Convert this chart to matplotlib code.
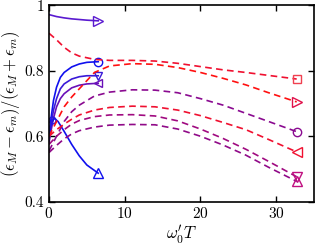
import numpy as np
import matplotlib
matplotlib.use("Agg")
import matplotlib.pyplot as plt

plt.rcParams['font.family'] = 'serif'
plt.rcParams['font.serif'] = ['cmr10', 'DejaVu Serif']
plt.rcParams['mathtext.fontset'] = 'cm'
plt.rcParams['axes.formatter.use_mathtext'] = True

# solid curves (short T range)
xs_top = [0, 1, 2, 3, 4, 5, 6.5]
ys_top = [0.972, 0.966, 0.962, 0.959, 0.957, 0.955, 0.953]

xs_circ = [0, 0.3, 0.6, 1, 1.5, 2, 3, 4, 5, 6.5]
ys_circ = [0.60, 0.66, 0.71, 0.75, 0.78, 0.795, 0.812, 0.821, 0.826, 0.828]

xs_dtri = [0, 0.3, 0.6, 1, 1.5, 2, 3, 4, 5, 6.5]
ys_dtri = [0.60, 0.64, 0.68, 0.715, 0.745, 0.76, 0.775, 0.782, 0.785, 0.785]

xs_ltri = [0, 0.3, 0.6, 1, 1.5, 2, 3, 4, 5, 6.5]
ys_ltri = [0.58, 0.62, 0.655, 0.69, 0.715, 0.73, 0.748, 0.756, 0.76, 0.762]

xs_utri = [0, 0.3, 0.7, 1.2, 2, 3, 4, 5, 6.5]
ys_utri = [0.60, 0.64, 0.655, 0.645, 0.615, 0.575, 0.54, 0.512, 0.487]

xs_small = [0, 0.2, 0.4]
ys_small = [0.61, 0.635, 0.65]

# dashed curves (long T range)
xd = [0, 1, 2, 3, 4, 6, 8, 11, 14, 17, 20, 23, 26, 29, 32.7]
yd_sq = [0.915, 0.895, 0.872, 0.855, 0.845, 0.835, 0.832, 0.832, 0.83, 0.823, 0.813, 0.803, 0.795, 0.786, 0.775]
yd_rtri = [0.60, 0.645, 0.69, 0.72, 0.745, 0.795, 0.815, 0.822, 0.82, 0.81, 0.795, 0.777, 0.757, 0.733, 0.705]
yd_circ = [0.555, 0.60, 0.645, 0.675, 0.695, 0.723, 0.735, 0.742, 0.741, 0.733, 0.715, 0.695, 0.67, 0.645, 0.614]
yd_ltri = [0.60, 0.62, 0.637, 0.652, 0.665, 0.68, 0.688, 0.692, 0.69, 0.68, 0.663, 0.642, 0.62, 0.59, 0.552]
yd_hup = [0.575, 0.60, 0.62, 0.637, 0.648, 0.66, 0.665, 0.666, 0.662, 0.647, 0.622, 0.593, 0.56, 0.523, 0.476]
yd_hdn = [0.55, 0.572, 0.592, 0.607, 0.617, 0.628, 0.634, 0.636, 0.635, 0.622, 0.60, 0.573, 0.542, 0.505, 0.462]

fig = plt.figure(figsize=(3.16, 2.48), dpi=100)
ax = fig.add_axes([0.155, 0.187, 0.839, 0.791])

lw = 1.2
ms = 6
dash = (0, (4, 2.6))

ax.plot(xs_top, ys_top, '-', color='#5a1ad0', lw=lw)
ax.plot(xs_top[-1], ys_top[-1], '>', mfc='none', mec='#5a1ad0', ms=ms+1)
ax.plot(xs_circ, ys_circ, '-', color='#1010ee', lw=lw)
ax.plot(xs_circ[-1], ys_circ[-1], 'o', mfc='none', mec='#1010ee', ms=ms)
ax.plot(xs_dtri, ys_dtri, '-', color='#3a1ad8', lw=lw)
ax.plot(xs_dtri[-1], ys_dtri[-1], 'v', mfc='none', mec='#3a1ad8', ms=ms)
ax.plot(xs_ltri, ys_ltri, '-', color='#6a10b8', lw=lw)
ax.plot(xs_ltri[-1], ys_ltri[-1], '<', mfc='none', mec='#6a10b8', ms=ms)
ax.plot(xs_utri, ys_utri, '-', color='#1010ee', lw=lw)
ax.plot(xs_utri[-1], ys_utri[-1], '^', mfc='none', mec='#1010ee', ms=ms+1)
ax.plot(xs_small, ys_small, '-', color='#2818e0', lw=lw)
ax.plot(xs_small[-1], ys_small[-1], 'o', mfc='none', mec='#2818e0', ms=ms-1)

ax.plot(xd, yd_sq, color='#f01030', lw=lw, ls=dash)
ax.plot(xd[-1], yd_sq[-1], 's', mfc='none', mec='#f04050', ms=ms-0.5)
ax.plot(xd, yd_rtri, color='#ff1010', lw=lw, ls=dash)
ax.plot(xd[-1], yd_rtri[-1], '>', mfc='none', mec='#e0104a', ms=ms+1)
ax.plot(xd, yd_circ, color='#8a0a90', lw=lw, ls=dash)
ax.plot(xd[-1], yd_circ[-1], 'o', mfc='none', mec='#8a0a90', ms=ms)
ax.plot(xd, yd_ltri, color='#f01030', lw=lw, ls=dash)
ax.plot(xd[-1], yd_ltri[-1], '<', mfc='none', mec='#f01030', ms=ms+1)
ax.plot(xd, yd_hup, color='#a00a80', lw=lw, ls=dash)
ax.plot(xd[-1], yd_hup[-1], 'v', mfc='none', mec='#c01080', ms=ms+1)
ax.plot(xd, yd_hdn, color='#900a88', lw=lw, ls=dash)
ax.plot(xd[-1], yd_hdn[-1], '^', mfc='none', mec='#c01080', ms=ms+1)

ax.set_xlim(0, 35)
ax.set_ylim(0.4, 1.0)
ax.set_xticks([0, 10, 20, 30])
ax.set_yticks([0.4, 0.6, 0.8, 1.0])
ax.set_yticklabels(['0.4', '0.6', '0.8', '1'])
ax.tick_params(direction='in', top=True, right=True, labelsize=11, length=4, width=1)
for s in ax.spines.values():
    s.set_linewidth(1.2)
ax.set_xlabel(r"$\omega_0' T$", fontsize=12, labelpad=1)
ax.set_ylabel(r"$(\epsilon_M-\epsilon_m)/(\epsilon_M+\epsilon_m)$", fontsize=12, labelpad=2)

fig.savefig("out.png", dpi=100)
